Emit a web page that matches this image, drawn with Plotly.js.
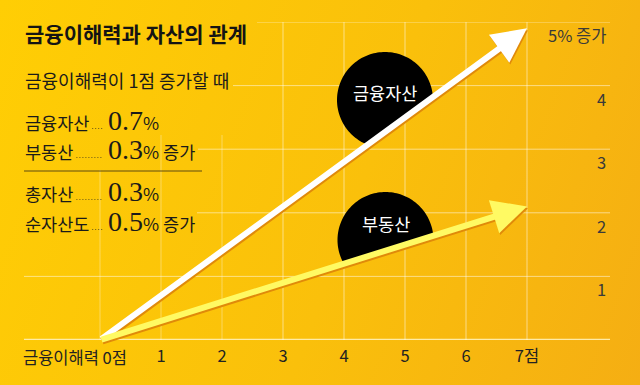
<!DOCTYPE html>
<html><head><meta charset="utf-8">
<script src="https://cdn.plot.ly/plotly-3.0.1.min.js"></script>
<style>
html,body{margin:0;padding:0;}
body{width:640px;height:385px;overflow:hidden;background:linear-gradient(110deg,#FFCE04 0%,#FAC00B 55%,#F5AE13 100%);}
#chart{width:640px;height:385px;}
</style></head><body><div id="chart"></div>
<script>
// ---------- data ----------
const chartTitle = '금융이해력과 자산의 관계';
const subTitle = '금융이해력이 1점 증가할 때';
const xTickVals = [1, 2, 3, 4, 5, 6, 7];
const xTickText = ['1', '2', '3', '4', '5', '6', '7점'];
const xOriginLabel = '금융이해력 0점';
const yTickVals = [1, 2, 3, 4, 5];
const yTickText = ['1', '2', '3', '4', '5% 증가'];
const seriesNames = ['금융자산', '부동산'];
const seriesStartX = [0, 0];
const seriesStartY = [0, 0];
const seriesEndX = [7, 7];
const seriesEndY = [4.9, 2.1];
const rowNames = ['금융자산', '부동산', '총자산', '순자산도'];
const rowValues = [0.7, 0.3, 0.3, 0.5];
const rowSuffix = ['', ' 증가', '', ' 증가'];

// ---------- geometry helpers ----------
const W = 640, H = 385;
const M = {l: 24, r: 30, t: 22, b: 45};
const pw = W - M.l - M.r, ph = H - M.t - M.b;
const xRange = [-76/61, 510/61];
const yRange = [0, 5];
const pxPerX = pw / (xRange[1] - xRange[0]);
const pxPerY = ph / (yRange[1] - yRange[0]);
const PX = px => (px - M.l) / pw;
const PY = py => (H - M.b - py) / ph;
const DX = px => xRange[0] + (px - M.l) / pxPerX;
const DY = py => yRange[0] + (H - M.b - py) / pxPerY;

const FONT = "'Noto Sans CJK KR', 'Noto Sans', sans-serif";
const SERIF = "'Liberation Serif', 'DejaVu Serif', serif";

const shapes = [];
const annotations = [];

// grid lines
const hStartPx = [24, 24, 197, 198, 233, 257];
[0].concat(yTickVals).forEach((v, i) => {
  const axis = v === 0;
  shapes.push({type: 'line', layer: 'below', xref: 'paper', yref: 'y',
    x0: PX(hStartPx[i]), x1: 1, y0: v, y1: v,
    line: {color: axis ? 'rgba(255,238,175,0.95)' : 'rgba(255,255,255,0.5)', width: axis ? 2.5 : 1}});
});
const vTopPx = [170, 135, 135];
[0].concat(xTickVals).forEach((v, i) => {
  const top = i < vTopPx.length ? DY(vTopPx[i]) : yRange[1];
  shapes.push({type: 'line', layer: 'below', xref: 'x', yref: 'y',
    x0: v, x1: v, y0: 0, y1: top,
    line: {color: i < vTopPx.length ? 'rgba(255,255,255,0.35)' : 'rgba(255,255,255,0.5)', width: 1}});
});

// y tick labels (sit just below each grid line, right aligned)
yTickVals.forEach((v, i) => {
  annotations.push({xref: 'paper', yref: 'y', x: PX(608), y: v, yshift: -13, text: yTickText[i],
    showarrow: false, xanchor: 'right', yanchor: 'middle',
    font: {family: FONT, size: 16.5, color: '#3a3a3a'}});
});

// black label discs, clipped by the arrow line
function clippedDisc(cx, cy, rpx, slope) {
  const pts = [];
  for (let i = 0; i <= 160; i++) {
    const t = 2 * Math.PI * i / 160;
    const x = cx + rpx * Math.cos(t) / pxPerX;
    let y = cy + rpx * Math.sin(t) / pxPerY;
    const yl = slope * x;
    if (y < yl) y = yl;
    pts.push(x.toFixed(4) + ',' + y.toFixed(4));
  }
  return 'M' + pts.join('L') + 'Z';
}
const discCenters = [[DX(385), DY(100)], [DX(385.5), DY(240)]];
const discLabelPy = [92, 223];
seriesNames.forEach((name, i) => {
  const slope = (seriesEndY[i] - seriesStartY[i]) / (seriesEndX[i] - seriesStartX[i]);
  shapes.push({type: 'path', layer: 'above', xref: 'x', yref: 'y',
    path: clippedDisc(discCenters[i][0], discCenters[i][1], 48, slope),
    fillcolor: '#000000', line: {width: 0}});
  annotations.push({xref: 'x', yref: 'y', x: discCenters[i][0], y: DY(discLabelPy[i]),
    text: name, showarrow: false, xanchor: 'center', yanchor: 'middle',
    font: {family: FONT, size: 17.5, color: '#ffffff'}});
});

// arrows (shadow + main)
const arrowColors = ['#FFFFFF', '#FFFA63'];
seriesNames.forEach((name, i) => {
  [{c: '#E08A0A', xs: 1, ys: -1.8}, {c: arrowColors[i], xs: 0, ys: 0}].forEach(s => {
    annotations.push({xref: 'x', yref: 'y', axref: 'x', ayref: 'y',
      x: seriesEndX[i], y: seriesEndY[i], ax: seriesStartX[i], ay: seriesStartY[i],
      text: '', showarrow: true, arrowhead: 2, arrowsize: 1.15, arrowwidth: 6,
      arrowcolor: s.c, xshift: s.xs, yshift: s.ys, standoff: 0});
  });
});

// x origin label
annotations.push({xref: 'x', yref: 'paper', x: DX(129), y: PY(357), text: xOriginLabel,
  showarrow: false, xanchor: 'right', yanchor: 'middle',
  font: {family: FONT, size: 16.5, color: '#222'}});

// title & subtitle
annotations.push({xref: 'paper', yref: 'paper', x: PX(23), y: PY(33), text: '<b>' + chartTitle + '</b>',
  showarrow: false, xanchor: 'left', yanchor: 'middle', font: {family: FONT, size: 21, color: '#141414'}});
annotations.push({xref: 'paper', yref: 'paper', x: PX(23), y: PY(80), text: subTitle,
  showarrow: false, xanchor: 'left', yanchor: 'middle', font: {family: FONT, size: 18, color: '#1a1a1a'}});

// summary rows
const rowCenterPy = [122, 151, 193, 223];
rowNames.forEach((n, i) => {
  const cy = rowCenterPy[i];
  annotations.push({xref: 'paper', yref: 'paper', x: PX(23), y: PY(cy), text: n,
    showarrow: false, xanchor: 'left', yanchor: 'middle', font: {family: FONT, size: 17.5, color: '#1a1a1a'}});
  shapes.push({type: 'line', xref: 'paper', yref: 'paper',
    x0: PX(25 + n.length * 15.8 + 4), x1: PX(103), y0: PY(cy + 6.5), y1: PY(cy + 6.5),
    line: {color: '#6a5818', width: 1, dash: '1px,2px'}});
  annotations.push({xref: 'paper', yref: 'paper', x: PX(106), y: PY(cy - 2),
    text: '<span style="font-family:' + SERIF.replace(/'/g, '') + ';font-size:28px">' + rowValues[i].toFixed(1) + '</span>%' + rowSuffix[i],
    showarrow: false, xanchor: 'left', yanchor: 'middle', font: {family: FONT, size: 17.5, color: '#1a1a1a'}});
});
shapes.push({type: 'line', xref: 'paper', yref: 'paper', x0: PX(24), x1: PX(202), y0: PY(171), y1: PY(171),
  line: {color: '#5e4b10', width: 1}});

const layout = {
  width: W, height: H, margin: M,
  paper_bgcolor: 'rgba(0,0,0,0)', plot_bgcolor: 'rgba(0,0,0,0)',
  showlegend: false,
  font: {family: FONT, color: '#222'},
  xaxis: {range: xRange, tickvals: xTickVals, ticktext: xTickText, showgrid: false, zeroline: false,
    showline: false, ticks: '', ticklabelstandoff: 4, tickfont: {family: FONT, size: 16.5, color: '#222'}, fixedrange: true},
  yaxis: {range: yRange, showticklabels: false, showgrid: false, zeroline: false, showline: false,
    ticks: '', fixedrange: true},
  shapes: shapes, annotations: annotations
};
Plotly.newPlot('chart', [], layout, {displayModeBar: false, staticPlot: true});
</script></body></html>
